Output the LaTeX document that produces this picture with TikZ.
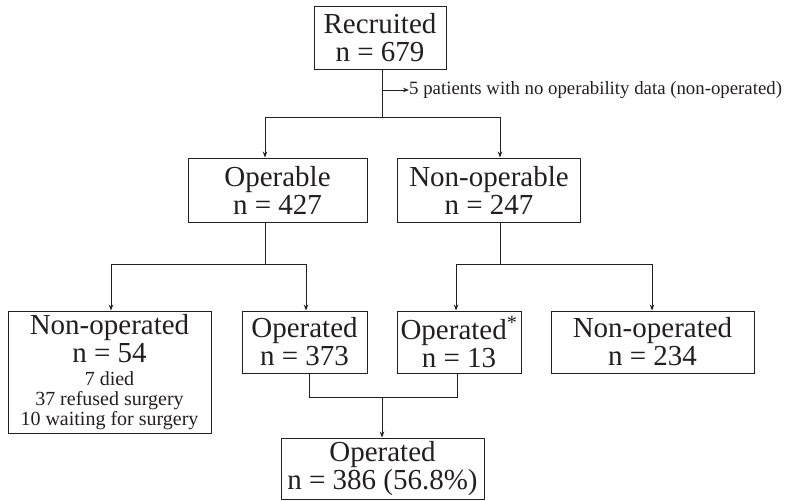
\documentclass[tikz,border=0pt]{standalone}
\usepackage{fontspec}
\setmainfont{Liberation Serif}
\usetikzlibrary{arrows.meta}
\newcommand\bigtxt{\fontsize{29}{28}\selectfont}
\newcommand\smtxt{\fontsize{20}{19.5}\selectfont}
\newcommand\sidetxt{\fontsize{18.8}{19}\selectfont}
\definecolor{ink}{HTML}{231F20}
\tikzset{
  box/.style={draw=ink, line width=0.9pt, text=ink, align=center, inner sep=0pt, font=\bigtxt},
  conn/.style={draw=ink, line width=0.9pt},
  arr/.style={conn, -{Stealth[length=6pt,width=4.5pt]}},
}
\begin{document}
\begin{tikzpicture}[x=1pt,y=-1pt]
\useasboundingbox (0,0) rectangle (791,500);
% boxes
\node[box, minimum width=132, minimum height=63] (rec) at (380,37.5) {Recruited\\n = 679};
\node[box, minimum width=179, minimum height=64] (opb) at (277.5,190) {Operable\\n = 427};
\node[box, minimum width=183, minimum height=64] (nopb) at (489,190) {Non-operable\\n = 247};
\node[box, minimum width=203, minimum height=122] (nop54) at (109.5,372) {Non-operated\\n = 54\\[-5pt]{\smtxt 7 died}\\[-8pt]{\smtxt 37 refused surgery}\\[-8pt]{\smtxt 10 waiting for surgery}};
\node[box, minimum width=125, minimum height=62] (op373) at (304.5,342) {Operated\\n = 373};
\node[box, minimum width=124, minimum height=62] (op13) at (459,342) {Operated\textsuperscript{*}\\n = 13};
\node[box, minimum width=203, minimum height=62] (nop234) at (652.5,342) {Non-operated\\n = 234};
\node[box, minimum width=203, minimum height=61] (opall) at (382.5,468.5) {Operated\\n = 386 (56.8\%)};
\node[text=ink, font=\sidetxt, anchor=west, inner sep=0pt] (excl) at (409,90) {5 patients with no operability data (non-operated)};
% coordinates
\coordinate (j1) at (382,117);
\coordinate (s1) at (382,90);
\coordinate (j2) at (265,264);
\coordinate (j3) at (500,264);
\coordinate (j4) at (382,397);
% connectors
\draw[conn] (rec.south -| j1) -- (j1);
\draw[arr] (s1) -- (excl.west);
\draw[arr] (j1) -| (opb.north -| j2);
\draw[arr] (j1) -| (nopb.north -| j3);
\draw[conn] (opb.south -| j2) -- (j2);
\draw[arr] (j2) -| (nop54.north -| 111,0);
\draw[arr] (j2) -| (op373.north -| 306,0);
\draw[conn] (nopb.south -| j3) -- (j3);
\draw[arr] (j3) -| (op13.north -| 456,0);
\draw[arr] (j3) -| (nop234.north -| 652,0);
\draw[conn] (op373.south -| 309,0) |- (j4);
\draw[conn] (op13.south -| 457,0) |- (j4);
\draw[arr] (j4) -- (opall.north -| j4);
\end{tikzpicture}
\end{document}
